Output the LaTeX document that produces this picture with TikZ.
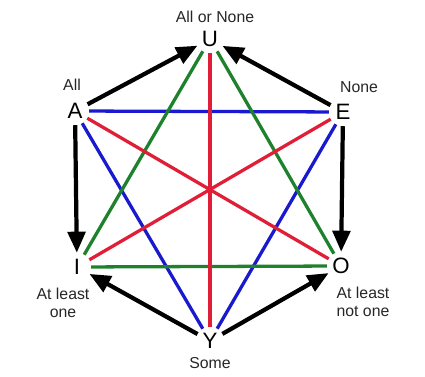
\documentclass[tikz,border=0pt]{standalone}
\usepackage{fontspec}
\setmainfont{Liberation Sans}
\usetikzlibrary{arrows.meta, positioning}
\definecolor{hexred}{RGB}{225,30,55}
\definecolor{hexblue}{RGB}{25,25,205}
\definecolor{hexgreen}{RGB}{30,130,45}

\begin{document}
\begin{tikzpicture}[x=0.03cm, y=-0.03cm,
    vertex/.style={circle, minimum size=28*0.03cm, inner sep=0pt, font=\fontsize{19}{19}\selectfont},
    caption/.style={align=center, font=\fontsize{13.5}{15}\selectfont, text=black!85},
    redline/.style={line width=2.8pt, hexred},
    blueline/.style={line width=2.8pt, hexblue},
    greenline/.style={line width=2.8pt, hexgreen},
    arrow/.style={-{Triangle[length=18pt, width=15pt]}, line width=3.6pt, black},
]
\useasboundingbox (0,0) rectangle (425,377);
\node[vertex] (u) at (210,39) {U};
\node[vertex] (a) at (75,111) {A};
\node[vertex] (e) at (343,112) {E};
\node[vertex] (i) at (77,267) {I};
\node[vertex] (o) at (341,266) {O};
\node[vertex] (y) at (210,341) {Y};

\node[caption] (ulab) at (215,17) {All or None};
\node[caption] (alab) at (72,85) {All};
\node[caption] (elab) at (359,87) {None};
\node[caption] (ilab) at (63,303) {At least\\one};
\node[caption] (olab) at (363,302) {At least\\not one};
\node[caption] (ylab) at (210,363) {Some};

\draw[blueline] (a) -- (e);
\draw[blueline] (a) -- (y);
\draw[blueline] (e) -- (y);
\draw[greenline] (u) -- (i);
\draw[greenline] (u) -- (o);
\draw[greenline] (i) -- (o);
\draw[redline] (u) -- (y);
\draw[redline] (a) -- (o);
\draw[redline] (e) -- (i);

\draw[arrow] (a) -- (u);
\draw[arrow] (e) -- (u);
\draw[arrow] (a) -- (i);
\draw[arrow] (e) -- (o);
\draw[arrow] (y) -- (i);
\draw[arrow] (y) -- (o);
\end{tikzpicture}
\end{document}
